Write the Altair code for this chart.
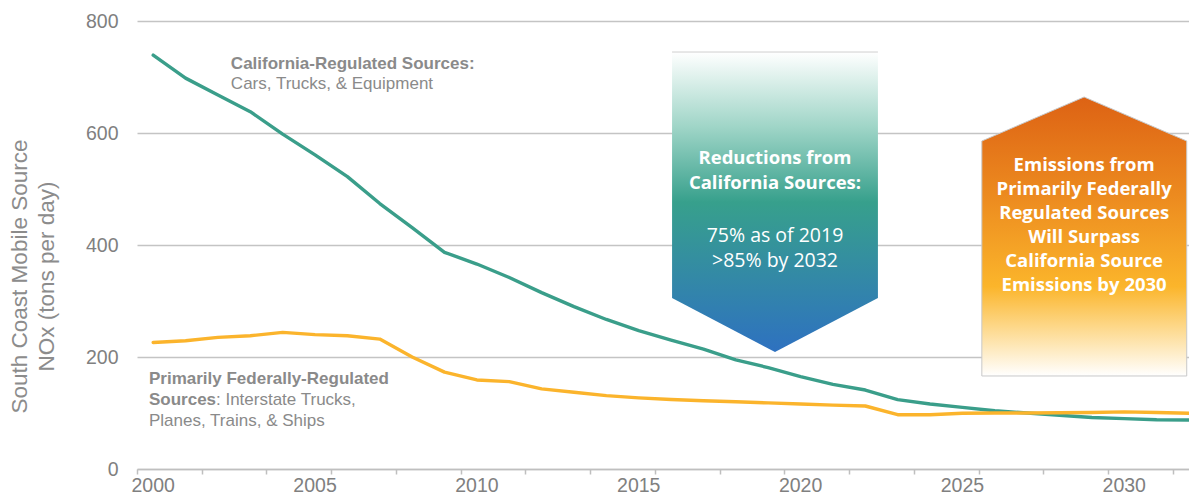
import altair as alt
import pandas as pd

# ---------------- data ----------------
years = list(range(2000, 2033))
california = [739, 698, 668, 638, 598, 561, 522, 474, 431, 387, 366, 342, 315, 290, 267,
              247, 230, 214, 195, 181, 165, 151, 141, 124, 116, 110, 104, 100, 96, 92,
              90, 88, 87.5]
federal = [226, 229, 235, 238, 244, 240, 238, 232, 200, 173, 159, 156, 143, 137, 131,
           127, 124, 122, 120, 118, 116, 114, 112.5, 97, 97, 99.5, 100, 100, 100.5, 101,
           102, 101, 99.5]
x_tick_labels = [2000, 2005, 2010, 2015, 2020, 2025, 2030]
x_tick_bounds = [y - 0.5 for y in years]          # category boundaries
y_ticks = [0, 200, 400, 600, 800]
y_title = ["South Coast Mobile Source", "NOx (tons per day)"]

ca_label = ["California-Regulated Sources:", "Cars, Trucks, & Equipment"]
fed_label_bold = ["Primarily Federally-Regulated", "Sources"]
fed_label_reg = [": Interstate Trucks,", "Planes, Trains, & Ships"]
teal_bold = ["Reductions from", "California Sources:"]
teal_reg = ["75% as of 2019", ">85% by 2032"]
orange_text = ["Emissions from", "Primarily Federally", "Regulated Sources",
               "Will Surpass", "California Source", "Emissions by 2030"]

# annotation shapes (data units)
teal_x = [2016.03, 2019.21, 2022.39]
teal_top = [744.6, 744.6, 744.6]
teal_bottom = [305.4, 208.9, 305.4]
orange_x = [2025.60, 2028.76, 2031.93]
orange_top = [585.7, 664.3, 585.7]
orange_bottom = [166.1, 166.1, 166.1]

# ---------------- layout ----------------
W, H = 1052, 448
X_DOMAIN = [1999.5, 2032.0]

GREEN = "#3a9e8a"
YELLOW = "#fbb42c"
GRAY_TXT = "#8a8a8a"
AXIS_TXT = "#808080"
GRID = "#c4c4c4"
BOX_FONT = "Open Sans"

x_scale = alt.Scale(domain=X_DOMAIN, nice=False, zero=False)
y_scale = alt.Scale(domain=[0, 800], nice=False)

df = pd.DataFrame({"year": years, "ca": california, "fed": federal})

x_axis = alt.Axis(
    values=x_tick_bounds, title=None, grid=False, labels=False,
    tickSize=5, tickColor="#bfbfbf", tickWidth=1.5,
    domainColor="#bfbfbf", domainWidth=1.5,
)
y_axis = alt.Axis(
    values=y_ticks, title=y_title, grid=True, gridColor=GRID, gridWidth=1.3,
    domain=False, ticks=False, labelPadding=19,
    labelFontSize=19.5, labelColor=AXIS_TXT, labelFont="Liberation Sans",
    titleFontSize=22.5, titleFont="Liberation Sans", titleColor="#8c8c8c",
    titleFontWeight="normal", titleAngle=-90, titleAlign="center",
    titleBaseline="top", titleX=-129, titleY=255, titleLineHeight=27,
)

base = alt.Chart(df)

ca_line = base.mark_line(color=GREEN, strokeWidth=3.4, strokeJoin="round",
                         strokeCap="round").encode(
    x=alt.X("year:Q", scale=x_scale, axis=x_axis),
    y=alt.Y("ca:Q", scale=y_scale, axis=y_axis),
)
fed_line = base.mark_line(color=YELLOW, strokeWidth=3.4, strokeJoin="round",
                          strokeCap="round").encode(
    x=alt.X("year:Q", scale=x_scale),
    y=alt.Y("fed:Q", scale=y_scale),
)

x_labels = alt.Chart(pd.DataFrame({"x": x_tick_labels, "y": [0] * len(x_tick_labels),
                                   "t": [str(v) for v in x_tick_labels]})).mark_text(
    align="center", baseline="top", dy=8, font="Liberation Sans", fontSize=19.5,
    color=AXIS_TXT).encode(
    x=alt.X("x:Q", scale=x_scale), y=alt.Y("y:Q", scale=y_scale), text="t:N")

teal_grad = alt.Gradient(
    gradient="linear", x1=0, x2=0, y1=0, y2=1,
    stops=[alt.GradientStop(color="#ffffff", offset=0),
           alt.GradientStop(color="#9fd5c7", offset=0.25),
           alt.GradientStop(color="#37a08c", offset=0.5),
           alt.GradientStop(color="#3389a6", offset=0.75),
           alt.GradientStop(color="#2e71c0", offset=1)],
)
orange_grad = alt.Gradient(
    gradient="linear", x1=0, x2=0, y1=0, y2=1,
    stops=[alt.GradientStop(color="#dd6214", offset=0),
           alt.GradientStop(color="#ec8a1f", offset=0.35),
           alt.GradientStop(color="#fbb52b", offset=0.68),
           alt.GradientStop(color="#fdd787", offset=0.82),
           alt.GradientStop(color="#ffffff", offset=1)],
)

teal_df = pd.DataFrame({"x": teal_x, "y": teal_top, "y2": teal_bottom})
orange_df = pd.DataFrame({"x": orange_x, "y": orange_top, "y2": orange_bottom})

teal_arrow = alt.Chart(teal_df).mark_area(color=teal_grad, interpolate="linear").encode(
    x=alt.X("x:Q", scale=x_scale), y=alt.Y("y:Q", scale=y_scale), y2="y2:Q")
teal_edge = alt.Chart(pd.DataFrame({"x": [teal_x[0]], "x2": [teal_x[-1]],
                                    "y": [teal_top[0]]})).mark_rule(
    color="#cfcfcf", strokeWidth=1).encode(
    x=alt.X("x:Q", scale=x_scale), x2="x2:Q", y=alt.Y("y:Q", scale=y_scale))
orange_arrow = alt.Chart(orange_df).mark_area(
    color=orange_grad, interpolate="linear", stroke="#c8c8c8", strokeWidth=1).encode(
    x=alt.X("x:Q", scale=x_scale), y=alt.Y("y:Q", scale=y_scale), y2="y2:Q")


def text_layer(xs, ys, texts, **kw):
    d = pd.DataFrame({"x": xs, "y": ys, "t": texts})
    return alt.Chart(d).mark_text(**kw).encode(
        x=alt.X("x:Q", scale=x_scale), y=alt.Y("y:Q", scale=y_scale), text="t:N")


ca_t1 = text_layer([2002.40], [713.4], ca_label[:1], align="left", baseline="alphabetic",
                   font="Liberation Sans", fontSize=17, fontWeight="bold", color=GRAY_TXT)
ca_t2 = text_layer([2002.40], [677.7], ca_label[1:], align="left", baseline="alphabetic",
                   font="Liberation Sans", fontSize=17, color=GRAY_TXT)
fed_t1 = text_layer([1999.87, 1999.87], [150.9, 114.3], fed_label_bold, align="left",
                    baseline="alphabetic", font="Liberation Sans", fontSize=17,
                    fontWeight="bold", color=GRAY_TXT)
fed_t2 = text_layer([1999.87], [114.3], fed_label_reg[:1], align="left", dx=67,
                    baseline="alphabetic", font="Liberation Sans", fontSize=17, color=GRAY_TXT)
fed_t3 = text_layer([1999.87], [76.8], fed_label_reg[1:], align="left",
                    baseline="alphabetic", font="Liberation Sans", fontSize=17, color=GRAY_TXT)

teal_t1 = text_layer([2019.21, 2019.21], [544.6, 500.0], teal_bold, align="center",
                     baseline="alphabetic", font=BOX_FONT, fontSize=18.5, fontWeight="bold",
                     color="white")
teal_t2 = text_layer([2019.21, 2019.21], [405.9, 361.3], teal_reg, align="center",
                     baseline="alphabetic", font=BOX_FONT, fontSize=19.5, color="white")
orange_t = text_layer([2028.76] * 6, [532.1, 489.3, 446.4, 403.6, 360.7, 317.9],
                      orange_text, align="center", baseline="alphabetic", font=BOX_FONT,
                      fontSize=18.5, fontWeight="bold", color="white")

chart = alt.layer(
    ca_line, fed_line, x_labels, teal_arrow, teal_edge, orange_arrow,
    ca_t1, ca_t2, fed_t1, fed_t2, fed_t3, teal_t1, teal_t2, orange_t,
).properties(
    width=W, height=H, autosize="none",
    padding={"left": 129, "top": 13, "right": 0, "bottom": 29},
    background="white",
).configure_view(stroke=None)

chart.save("out.html", embed_options={"renderer": "svg", "actions": False})
